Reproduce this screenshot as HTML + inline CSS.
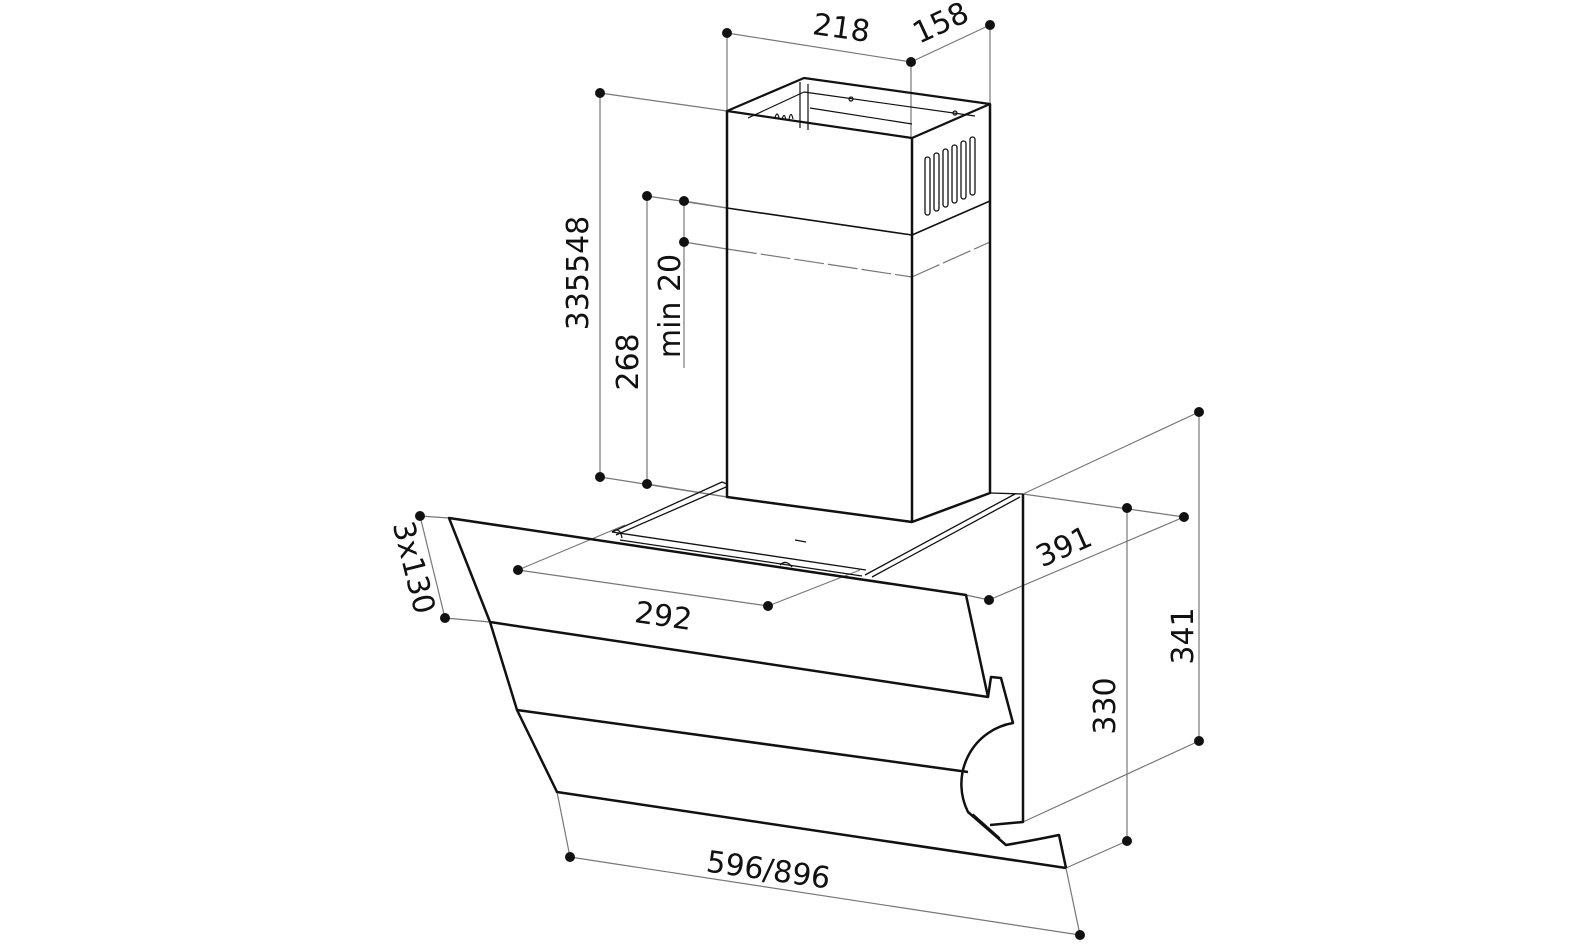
<!DOCTYPE html>
<html><head><meta charset="utf-8"><style>
html,body{margin:0;padding:0;background:#fff;}
svg{display:block;}
text{font-family:"DejaVu Sans","Liberation Sans",sans-serif;font-size:30px;fill:#111;}
</style></head><body>
<svg width="1582" height="951" viewBox="0 0 1582 951" xmlns="http://www.w3.org/2000/svg">
<g stroke="#777" stroke-width="1.2" fill="none">
<line x1="727" y1="33" x2="911" y2="62"/>
<line x1="911" y1="62" x2="990" y2="25"/>
<line x1="727" y1="33" x2="727" y2="111"/>
<line x1="911" y1="62" x2="911" y2="138"/>
<line x1="990" y1="25" x2="990" y2="104"/>
<line x1="600" y1="93" x2="600" y2="477"/>
<line x1="600" y1="93" x2="727" y2="111"/>
<line x1="600" y1="477" x2="727" y2="497"/>
<line x1="647" y1="196" x2="647" y2="484"/>
<line x1="647" y1="196" x2="727" y2="208"/>
<line x1="647" y1="484" x2="727" y2="497"/>
<line x1="684" y1="201" x2="684" y2="368"/>
<line x1="684" y1="201" x2="727" y2="208"/>
<line x1="684" y1="242" x2="727" y2="249"/>
<line x1="420" y1="516" x2="445" y2="618"/>
<line x1="420" y1="516" x2="449" y2="518"/>
<line x1="445" y1="618" x2="490" y2="622"/>
<line x1="518" y1="570" x2="768" y2="606"/>
<line x1="518" y1="570" x2="625" y2="525"/>
<line x1="768" y1="606" x2="860" y2="570"/>
<line x1="989" y1="600" x2="1184" y2="517"/>
<line x1="1023" y1="494" x2="1184" y2="517"/>
<line x1="966" y1="595" x2="989" y2="600"/>
<line x1="1199" y1="412" x2="1199" y2="741"/>
<line x1="1199" y1="412" x2="1023" y2="494"/>
<line x1="1199" y1="741" x2="1023" y2="822"/>
<line x1="1127" y1="508" x2="1127" y2="841"/>
<line x1="1127" y1="841" x2="1066" y2="868"/>
<line x1="570" y1="857" x2="1080" y2="935"/>
<line x1="570" y1="857" x2="557" y2="792"/>
<line x1="1080" y1="935" x2="1066" y2="868"/>
<line x1="727" y1="249" x2="912" y2="277" stroke-dasharray="30,4"/>
<line x1="912" y1="277" x2="990" y2="242" stroke-dasharray="30,4"/>
</g>
<g stroke="#111" fill="none" stroke-linejoin="round">
<path d="M727 111 L804 78 L990 104 L912 138 Z" stroke-width="2.2"/>
<path d="M727 111 L727 497 L912 522 L990 493 L990 104" stroke-width="2.5"/>
<line x1="912" y1="138" x2="912" y2="522" stroke-width="2.5"/>
<path d="M727 208 L912 235 L990 201" stroke-width="1.6"/>
<g stroke-width="1.2">
<path d="M748 118 L804 92 L975 116"/>
<path d="M800 82 L800 128 M808 84 L808 130"/>
<path d="M810 108 L912 124"/>
<circle cx="851" cy="99" r="2"/><circle cx="955" cy="113" r="2"/>
<path d="M775 118 q2-8 4 0 M782 120 q2-9 4 0 M789 119 q2-9 4 0"/>
</g>
<g stroke-width="1.3">
<rect x="925" y="157" width="5" height="58" rx="2.5"/>
<rect x="934" y="153" width="5" height="58" rx="2.5"/>
<rect x="943" y="149" width="5" height="58" rx="2.5"/>
<rect x="952" y="145" width="5" height="58" rx="2.5"/>
<rect x="961" y="141" width="5" height="58" rx="2.5"/>
<rect x="970" y="137" width="5" height="58" rx="2.5"/>
</g>
<g stroke-width="1.3">
<path d="M612 532 L722 482 L727 484"/>
<path d="M616 535 L726 487"/>
<path d="M865 575 L1015 494"/>
<path d="M872 577 L1020 497"/>
<path d="M612 532 L866 570"/>
<path d="M620 540 L862 576"/>
<path d="M990 493 L1023 494"/>
<line x1="795" y1="540" x2="806" y2="542"/>
<path d="M612 532 q8-6 10 6 M780 565 q6-6 12 2"/>
</g>
<path d="M449 518 L966 595 L988 697 L490 622 Z" stroke-width="2.5"/>
<path d="M490 622 L517 710 L968 772" stroke-width="2.5"/>
<path d="M517 710 L557 792 L1066 868" stroke-width="2.5"/>
<path d="M988 697 L991 677 L1001 678 L1013 723 A62 62 0 0 0 968 812 L1006 845 Q1035 840 1059 835 L1066 868" stroke-width="2.5"/>
<path d="M973 814 L1000 838" stroke-width="1.2"/>
<path d="M1023 494 L1023 822 L990 825" stroke-width="2.5"/>
</g>
<g fill="#111">
<circle cx="727" cy="33" r="5"/><circle cx="911" cy="62" r="5"/><circle cx="990" cy="25" r="5"/>
<circle cx="600" cy="93" r="5"/><circle cx="600" cy="477" r="5"/>
<circle cx="647" cy="196" r="5"/><circle cx="647" cy="484" r="5"/>
<circle cx="684" cy="201" r="5"/><circle cx="684" cy="242" r="5"/>
<circle cx="420" cy="516" r="5"/><circle cx="445" cy="618" r="5"/>
<circle cx="518" cy="570" r="5"/><circle cx="768" cy="606" r="5"/>
<circle cx="989" cy="600" r="5"/><circle cx="1184" cy="517" r="5"/>
<circle cx="1199" cy="412" r="5"/><circle cx="1199" cy="741" r="5"/>
<circle cx="1127" cy="508" r="5"/><circle cx="1127" cy="841" r="5"/>
<circle cx="570" cy="857" r="5"/><circle cx="1080" cy="935" r="5"/>
</g>
<text x="840" y="38" text-anchor="middle" transform="rotate(8 840 38)">218</text>
<text x="945" y="32" text-anchor="middle" transform="rotate(-25 945 32)">158</text>
<text x="588" y="273" text-anchor="middle" transform="rotate(-90 588 273)">335548</text>
<text x="638" y="362" text-anchor="middle" transform="rotate(-90 638 362)">268</text>
<text x="680" y="306" text-anchor="middle" transform="rotate(-90 680 306)">min 20</text>
<text x="404" y="570" text-anchor="middle" transform="rotate(76 404 570)">3x130</text>
<text x="662" y="626" text-anchor="middle" transform="rotate(8 662 626)">292</text>
<text x="1068" y="556" text-anchor="middle" transform="rotate(-24 1068 556)">391</text>
<text x="1193" y="636" text-anchor="middle" transform="rotate(-90 1193 636)">341</text>
<text x="1115" y="706" text-anchor="middle" transform="rotate(-90 1115 706)">330</text>
<text x="767" y="880" text-anchor="middle" transform="rotate(8 767 880)">596/896</text>
</svg>
</body></html>
